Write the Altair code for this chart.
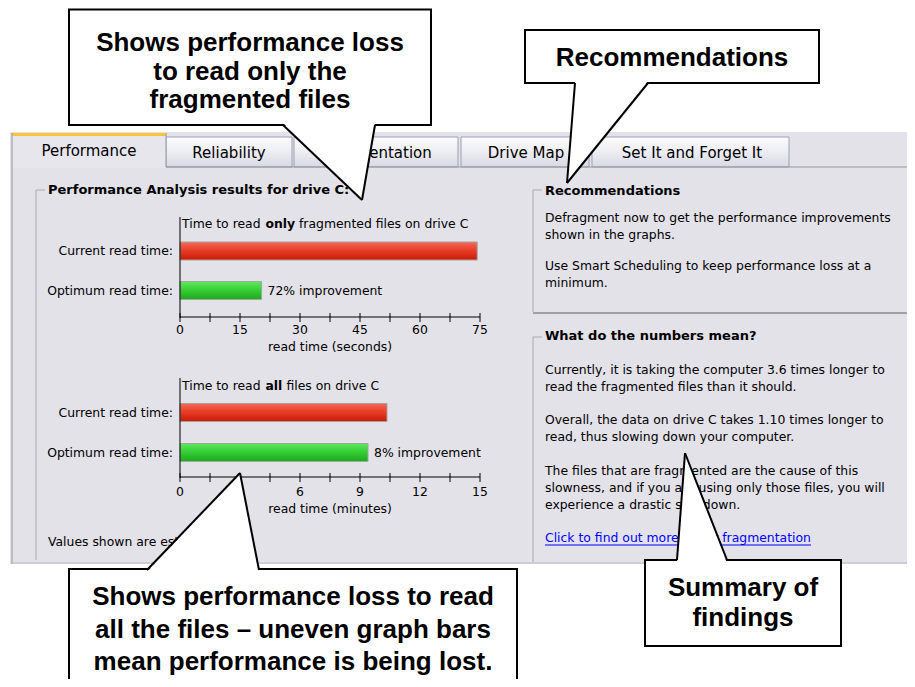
import altair as alt
import pandas as pd

W, H, M = 899, 671, 8

# ---------------- data ----------------
categories = ["Current read time:", "Optimum read time:"]
frag_seconds = [74.3, 20.4]
frag_notes = ["", "72% improvement"]
all_minutes = [10.35, 9.4]
all_notes = ["", "8% improvement"]
sec_ticks = [0, 7.5, 15, 22.5, 30, 37.5, 45, 52.5, 60, 67.5, 75]
sec_labels = [0, 15, 30, 45, 60, 75]
min_ticks = [0, 1.5, 3, 4.5, 6, 7.5, 9, 10.5, 12, 13.5, 15]
min_labels = [0, 3, 6, 9, 12, 15]

UI_FONT = "DejaVu Sans"
CALLOUT_FONT = "Liberation Sans"
GRAY = "#E3E2E8"
FRAME = "#A9A9B0"
TAB_BORDER = "#9AA2B4"

RED = alt.Gradient(gradient="linear", x1=0, x2=0, y1=0, y2=1, stops=[
    alt.GradientStop(color="#F46A58", offset=0),
    alt.GradientStop(color="#E63A24", offset=0.5),
    alt.GradientStop(color="#C81C06", offset=1)])
GREEN = alt.Gradient(gradient="linear", x1=0, x2=0, y1=0, y2=1, stops=[
    alt.GradientStop(color="#5EEA5E", offset=0),
    alt.GradientStop(color="#33CC33", offset=0.5),
    alt.GradientStop(color="#1EA81E", offset=1)])
TAB_GRAD = alt.Gradient(gradient="linear", x1=0, x2=0, y1=0, y2=1, stops=[
    alt.GradientStop(color="#FCFCFE", offset=0),
    alt.GradientStop(color="#ECECF2", offset=0.5),
    alt.GradientStop(color="#D9D9E3", offset=1)])

# ---------------- canvas helpers (layout, image pixel coordinates) ----------------
CX = alt.Scale(domain=[M, M + W], range=[0, W], nice=False, zero=False)
CY = alt.Scale(domain=[M, M + H], range=[0, H], nice=False, zero=False)


def cx(f):
    return alt.X(f, type="quantitative", scale=CX, axis=None)


def cy(f):
    return alt.Y(f, type="quantitative", scale=CY, axis=None)


def rects(rows, **kw):
    df = pd.DataFrame(rows, columns=["x", "y", "x2", "y2"])
    return alt.Chart(df).mark_rect(**kw).encode(
        x=cx("x"), x2=alt.X2("x2"), y=cy("y"), y2=alt.Y2("y2"))


def rules(rows, **kw):
    df = pd.DataFrame(rows, columns=["x", "y", "x2", "y2"])
    return alt.Chart(df).mark_rule(**kw).encode(
        x=cx("x"), x2=alt.X2("x2"), y=cy("y"), y2=alt.Y2("y2"))


def texts(rows, **kw):
    df = pd.DataFrame(rows, columns=["text", "x", "y"])
    base = dict(baseline="middle", font=UI_FONT, fontSize=12.4, color="#000000")
    base.update(kw)
    return alt.Chart(df).mark_text(**base).encode(
        x=cx("x"), y=cy("y"), text="text:N")


# ---------------- background UI ----------------
bg_layers = [
    rects([(10, 132, 915, 564)], fill=GRAY),
    rects([(166, 137, 292, 167), (294, 137, 458, 167), (461, 137, 589, 167),
           (592, 137, 789, 167)], fill=TAB_GRAD, stroke=TAB_BORDER, strokeWidth=1),
    rects([(12, 133, 166, 168)], fill="#E7E6EC"),
    rects([(12, 133, 166, 136)], fill="#FBC33E"),
    rules([(12, 133, 12, 564), (166, 133, 166, 167), (166, 167, 915, 167)],
          color="#919B9C", strokeWidth=1),
    rules([(12, 563, 915, 563)], color="#B8B8C0", strokeWidth=1),
    # group boxes
    rules([(36, 190, 45, 190), (36, 190, 36, 560),
           (533, 190, 542, 190), (533, 190, 533, 312),
           (533, 337, 542, 337), (533, 337, 533, 562)],
          color=FRAME, strokeWidth=1),
    rules([(533, 313, 915, 313)], color="#A0A0A8", strokeWidth=2),
    # tab labels
    texts([("Performance", 89, 151), ("Reliability", 229, 153),
           ("Fragmentation", 377, 153), ("Drive Map", 526, 153),
           ("Set It and Forget It", 692, 153)],
          align="center", fontSize=15),
    # group titles
    texts([("Performance Analysis results for drive C:", 48, 190),
           ("Recommendations", 545, 191),
           ("What do the numbers mean?", 545, 336)],
          align="left", fontSize=13, fontWeight="bold"),
    # body text
    texts([("Defragment now to get the performance improvements", 545, 218),
           ("shown in the graphs.", 545, 235),
           ("Use Smart Scheduling to keep performance loss at a", 545, 266),
           ("minimum.", 545, 283),
           ("Currently, it is taking the computer 3.6 times longer to", 545, 370),
           ("read the fragmented files than it should.", 545, 387),
           ("Overall, the data on drive C takes 1.10 times longer to", 545, 420),
           ("read, thus slowing down your computer.", 545, 437),
           ("The files that are fragmented are the cause of this", 545, 471),
           ("slowness, and if you are using only those files, you will", 545, 488),
           ("experience a drastic slowdown.", 545, 505),
           ("Values shown are estimates.", 48, 542),
           ("Time to read", 182, 224),
           ("fragmented files on drive C", 299, 224),
           ("Time to read", 182, 386),
           ("files on drive C", 286.5, 386)],
          align="left"),
    texts([("only", 265.5, 224), ("all", 265.5, 386)],
          align="left", fontWeight="bold"),
    texts([("Click to find out more about fragmentation", 545, 538)],
          align="left", color="#0000FF"),
    rules([(545, 545, 811, 545)], color="#0000FF", strokeWidth=1),
]
background = alt.layer(*bg_layers)


# ---------------- the two bar charts ----------------
def bar_chart(values, notes, ticks, labels, dmax, y_range, y_axis, y_tick0,
              y_tick1, y_lab, y_title, y_vtop, title):
    df = pd.DataFrame({"label": categories, "value": values, "note": notes})
    tk = pd.DataFrame({"tick": ticks})
    lb = pd.DataFrame({"lab": labels})
    xs = alt.Scale(domain=[0, dmax], range=[172, 472], nice=False, zero=True)
    ys = alt.Scale(type="point", domain=categories, range=y_range, padding=0)

    def X(f):
        return alt.X(f, type="quantitative", scale=xs, axis=None)

    Y = alt.Y("label:N", scale=ys, axis=None)
    base = alt.Chart(df)
    red = base.transform_filter(alt.datum.label == categories[0]).mark_bar(
        size=18, fill=RED, stroke="#A8A0A0", strokeWidth=1
    ).encode(x=X("value"), y=Y)
    green = base.transform_filter(alt.datum.label == categories[1]).mark_bar(
        size=18, fill=GREEN, stroke="#A0A8A0", strokeWidth=1
    ).encode(x=X("value"), y=Y)
    note = base.mark_text(align="left", dx=6, baseline="middle", font=UI_FONT,
                          fontSize=12.4, color="#000000").encode(
        x=X("value"), y=Y, text="note:N")
    cat = base.mark_text(align="right", dx=-7, baseline="middle", font=UI_FONT,
                         fontSize=12.4, color="#000000").encode(
        x=alt.XDatum(0, type="quantitative", scale=xs, axis=None), y=Y,
        text="label:N")
    tick_marks = alt.Chart(tk).mark_rule(color="#000000", strokeWidth=1).encode(
        x=X("tick"), y=alt.value(y_tick0 - M), y2=alt.value(y_tick1 - M))
    hline = alt.Chart(tk).mark_rule(color="#000000", strokeWidth=1).encode(
        x=X("min(tick)"), x2=alt.X2("max(tick)"), y=alt.value(y_axis - M))
    vline = alt.Chart(tk).mark_rule(color="#000000", strokeWidth=1).encode(
        x=X("min(tick)"), y=alt.value(y_vtop - M), y2=alt.value(y_axis + 1 - M))
    tick_text = alt.Chart(lb).mark_text(baseline="middle", align="center",
                                        font=UI_FONT, fontSize=12.4,
                                        color="#000000").encode(
        x=X("lab"), y=alt.value(y_lab - M), text="lab:Q")
    axis_title = alt.Chart(tk).mark_text(text=title, baseline="middle",
                                         align="center", font=UI_FONT,
                                         fontSize=12.4, color="#000000").encode(
        x=X("mean(tick)"), y=alt.value(y_title - M))
    return alt.layer(red, green, note, cat, hline, vline, tick_marks,
                     tick_text, axis_title)


chart1 = bar_chart(frag_seconds, frag_notes, sec_ticks, sec_labels, 75,
                   [251 - M, 290.5 - M], 317, 313, 322, 330, 347, 217,
                   "read time (seconds)")
chart2 = bar_chart(all_minutes, all_notes, min_ticks, min_labels, 15,
                   [412.5 - M, 452.5 - M], 477, 473, 482, 492, 509, 378,
                   "read time (minutes)")

# ---------------- callouts ----------------
boxes = rects([(69, 9.5, 431, 125), (525, 30, 819, 83), (69, 569, 517, 700),
               (645, 560, 841, 646)],
              fill="#FFFFFF", stroke="#000000", strokeWidth=2)
ptr_df = pd.DataFrame([
    ("a", 123, 283, 375), ("a", 200, 362, 362),
    ("b", 81, 575, 648), ("b", 183, 567, 567),
    ("c", 473, 240, 240), ("c", 572, 147, 259),
    ("d", 453, 685, 685), ("d", 563, 677, 727),
], columns=["id", "y", "x", "x2"])
pointers = alt.Chart(ptr_df).mark_area(orient="horizontal", fill="#FFFFFF",
                                       opacity=1).encode(
    y=cy("y"), x=cx("x"), x2=alt.X2("x2"), detail="id:N")
edges = rules([(283, 125, 362, 200), (375, 125, 362, 200),
               (575, 83, 567, 183), (648, 83, 567, 183),
               (147, 570, 240, 473), (259, 570, 240, 473),
               (677, 560, 685, 453), (727, 560, 685, 453)],
              color="#000000", strokeWidth=2)
callout_text = texts([
    ("Shows performance loss", 250, 43),
    ("to read only the", 250, 72),
    ("fragmented files", 250, 100),
    ("Recommendations", 672, 58),
    ("Shows performance loss to read", 293, 597),
    ("all the files \u2013 uneven graph bars", 293, 630),
    ("mean performance is being lost.", 293, 662),
    ("Summary of", 743, 588),
    ("findings", 743, 618),
], align="center", font=CALLOUT_FONT, fontSize=26, fontWeight="bold")
foreground = alt.layer(boxes, pointers, edges, callout_text)

chart = alt.layer(background, chart1, chart2, foreground).resolve_scale(
    x="independent", y="independent"
).properties(
    width=W, height=H, padding=0, autosize=alt.AutoSizeParams(type="none")
).configure_view(strokeWidth=0)

chart.save("out.html", embed_options={"renderer": "svg", "actions": False})
